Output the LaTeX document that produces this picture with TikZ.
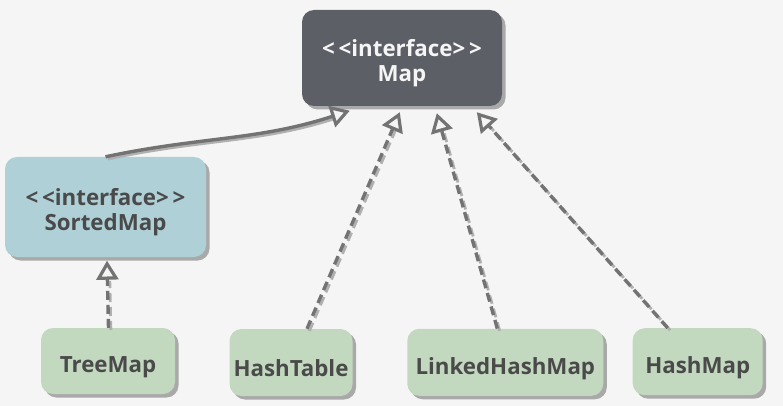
\documentclass[tikz,border=0pt]{standalone}
\usepackage{fontspec}
\setmainfont{Open Sans}
\usetikzlibrary{arrows.meta,shadows,calc}
\definecolor{bg}{HTML}{F5F5F5}
\definecolor{mapc}{HTML}{5D5F66}
\definecolor{sortc}{HTML}{AED0D6}
\definecolor{greenc}{HTML}{C2D9BF}
\definecolor{shadowc}{HTML}{A9A9A9}
\definecolor{txtc}{HTML}{4A4A4A}
\definecolor{linec}{HTML}{737373}
\definecolor{lineshc}{HTML}{B0B0B0}
\newcommand{\dn}[1]{\raisebox{-6pt}[\height][\depth]{#1}}
\newcommand{\twol}[2]{\dn{\begin{tabular}{@{}c@{}}#1\\#2\end{tabular}}}
\begin{document}
\begin{tikzpicture}[x=1pt,y=1pt,
  box/.style={rounded corners=12pt, align=center, inner sep=0pt,
    font=\bfseries\fontsize{22.3}{25}\selectfont, text=txtc,
    drop shadow={shadow xshift=3.5pt, shadow yshift=-3.5pt, fill=shadowc, opacity=1}},
  conn/.style={draw=linec, line width=3.4pt,
    -{Triangle[open, length=19pt, width=22pt, line width=3.2pt, fill=bg]}},
  connsh/.style={draw=lineshc, line width=2.8pt, shorten >=18pt, transform canvas={xshift=2.4pt, yshift=-2.2pt}},
  dsh/.style={dash pattern=on 9pt off 5pt}
]
\fill[bg] (0,0) rectangle (783,-406);
\useasboundingbox (0,0) rectangle (783,-406);

\node[box, fill=mapc, text=white!96!black, minimum width=200pt, minimum height=96pt] (map) at (402,-58) {\twol{<\,<interface>\,>}{Map}};
\node[box, fill=sortc, minimum width=201pt, minimum height=100pt] (sm) at (105.5,-207) {\twol{<\,<interface>\,>}{SortedMap}};
\node[box, fill=greenc, minimum width=134pt, minimum height=66pt] (tm) at (108,-361) {\dn{TreeMap}};
\node[box, fill=greenc, minimum width=123pt, minimum height=67pt] (ht) at (291,-362.5) {\dn{HashTable}};
\node[box, fill=greenc, minimum width=196pt, minimum height=67pt] (lhm) at (505.3,-362.3) {\dn{LinkedHashMap}};
\node[box, fill=greenc, minimum width=130pt, minimum height=67pt] (hm) at (697.7,-361.7) {\dn{HashMap}};

\coordinate (tSM) at ($(map.south west)+(48,-4.5)$);
\coordinate (tHT) at ($(map.south west)+(98,-6)$);
\coordinate (tLHM) at ($(map.south west)+(135,-7)$);
\coordinate (tHM) at ($(map.south west)+(175,-6)$);
\coordinate (tTM) at ($(sm.south)+(1.5,-3.5)$);

\coordinate (sHT) at ($(ht.north)+(16,0)$);
\coordinate (sLHM) at ($(lhm.north)+(-8,0)$);
\coordinate (sHM) at ($(hm.north)+(-30,0)$);
\coordinate (sTM) at ($(tm.north)+(0.5,0)$);

% shadows of connectors
\draw[connsh] (sm.north) to[out=12,in=198] (tSM);
\draw[connsh,dsh] (sHT) -- (tHT);
\draw[connsh,dsh] (sLHM) -- (tLHM);
\draw[connsh,dsh] (sHM) -- (tHM);
\draw[connsh,dsh] (sTM) -- (tTM);

% connectors
\draw[conn] (sm.north) to[out=12,in=198] (tSM);
\draw[conn,dsh] (sHT) -- (tHT);
\draw[conn,dsh] (sLHM) -- (tLHM);
\draw[conn,dsh] (sHM) -- (tHM);
\draw[conn,dsh] (sTM) -- (tTM);
\end{tikzpicture}
\end{document}
